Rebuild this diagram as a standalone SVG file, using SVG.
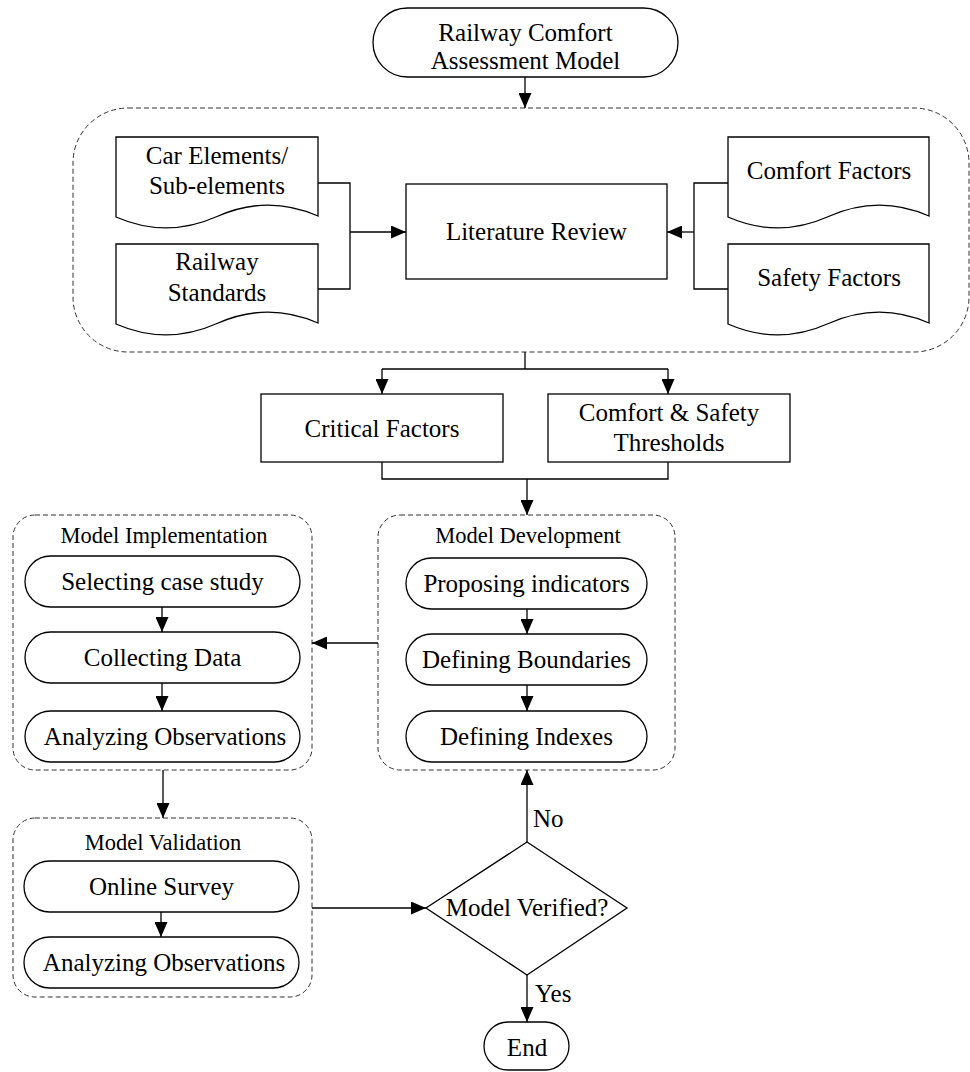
<svg xmlns="http://www.w3.org/2000/svg" width="970" height="1072" viewBox="0 0 970 1072">
<defs>
<marker id="ah" viewBox="0 0 15 13" refX="15" refY="6.5" markerWidth="15" markerHeight="13" markerUnits="userSpaceOnUse" orient="auto">
<path d="M0,0 L15,6.5 L0,13 Z" fill="#000"/>
</marker>
<style>
.s{fill:#fff;stroke:#000;stroke-width:1.3}
.c{fill:none;stroke:#333;stroke-width:1;stroke-dasharray:5 3}
.l{fill:none;stroke:#000;stroke-width:1.3}
.a{fill:none;stroke:#000;stroke-width:1.3;marker-end:url(#ah)}
text{font-family:"Liberation Serif","Times New Roman",serif;font-size:25px;text-anchor:middle;fill:#000}
.t{font-size:22.5px}
.lb{text-anchor:start}
</style>
</defs>
<rect width="970" height="1072" fill="#fff"/>

<g id="containers">
<rect id="group-literature" class="c" x="73" y="108" width="896" height="244" rx="55"/>
<rect id="group-implementation" class="c" x="13" y="515" width="299" height="255" rx="22"/>
<rect id="group-development" class="c" x="378" y="515" width="297" height="255" rx="22"/>
<rect id="group-validation" class="c" x="13" y="818" width="299" height="179" rx="22"/>
<text class="t" x="164" y="543">Model Implementation</text>
<text class="t" x="528" y="543">Model Development</text>
<text class="t" x="163" y="850">Model Validation</text>
</g>

<g id="connectors">
<line class="a" x1="525" y1="77" x2="525" y2="108"/>
<polyline class="l" points="318,183 350,183 350,289 318,289"/>
<line class="a" x1="350" y1="232" x2="406" y2="232"/>
<polyline class="l" points="728,183 694,183 694,289 728,289"/>
<line class="a" x1="694" y1="232" x2="667" y2="232"/>
<line class="l" x1="525" y1="352" x2="525" y2="369"/>
<line class="l" x1="382" y1="369" x2="668" y2="369"/>
<line class="a" x1="382" y1="369" x2="382" y2="394"/>
<line class="a" x1="668" y1="369" x2="668" y2="394"/>
<polyline class="l" points="382,462 382,479 668,479 668,462"/>
<line class="a" x1="527" y1="479" x2="527" y2="515"/>
<line class="a" x1="378" y1="643" x2="312" y2="643"/>
<line class="a" x1="162" y1="607" x2="162" y2="632"/>
<line class="a" x1="162" y1="683" x2="162" y2="711"/>
<line class="a" x1="527" y1="609" x2="527" y2="634"/>
<line class="a" x1="527" y1="685" x2="527" y2="711"/>
<line class="a" x1="163" y1="770" x2="163" y2="818"/>
<line class="a" x1="161" y1="912" x2="161" y2="937"/>
<line class="a" x1="312" y1="908" x2="426" y2="908"/>
<line class="a" x1="527" y1="842" x2="527" y2="770"/>
<line class="a" x1="527" y1="975" x2="527" y2="1022"/>
<text class="lb" x="533" y="827">No</text>
<text class="lb" x="535" y="1002">Yes</text>
</g>

<g id="start">
<rect class="s" x="373" y="8" width="305" height="69" rx="34.5"/>
<text x="525.5" y="41">Railway Comfort</text>
<text x="525.5" y="69">Assessment Model</text>
</g>

<g id="doc-car-elements">
<path class="s" d="M116,137 H318 V216 Q267.5,194 217,216.5 Q166.5,239 116,217 Z"/>
<text x="217" y="164">Car Elements/</text>
<text x="217" y="194">Sub-elements</text>
</g>
<g id="doc-railway-standards">
<path class="s" d="M116,244 H318 V323 Q267.5,301 217,323.5 Q166.5,346 116,324 Z"/>
<text x="217" y="270">Railway</text>
<text x="217" y="301">Standards</text>
</g>
<g id="doc-comfort-factors">
<path class="s" d="M728,137 H929 V216 Q878.75,194 828.5,216.5 Q778.25,239 728,217 Z"/>
<text x="829" y="179">Comfort Factors</text>
</g>
<g id="doc-safety-factors">
<path class="s" d="M728,244 H929 V323 Q878.75,301 828.5,323.5 Q778.25,346 728,324 Z"/>
<text x="829" y="286">Safety Factors</text>
</g>

<g id="literature-review">
<rect class="s" x="406" y="184" width="261" height="95"/>
<text x="536.5" y="240">Literature Review</text>
</g>

<g id="critical-factors">
<rect class="s" x="261" y="394" width="242" height="68"/>
<text x="382" y="437">Critical Factors</text>
</g>
<g id="thresholds">
<rect class="s" x="548" y="394" width="242" height="68"/>
<text x="669" y="421">Comfort &amp; Safety</text>
<text x="669" y="451">Thresholds</text>
</g>

<g id="selecting-case-study">
<rect class="s" x="25" y="556" width="275" height="51" rx="25.5"/>
<text x="162.5" y="590">Selecting case study</text>
</g>
<g id="collecting-data">
<rect class="s" x="25" y="632" width="275" height="51" rx="25.5"/>
<text x="162.5" y="666">Collecting Data</text>
</g>
<g id="analyzing-observations-1">
<rect class="s" x="25" y="711" width="275" height="51" rx="25.5"/>
<text x="165" y="745">Analyzing Observations</text>
</g>

<g id="proposing-indicators">
<rect class="s" x="406" y="558" width="241" height="51" rx="25.5"/>
<text x="526.5" y="592">Proposing indicators</text>
</g>
<g id="defining-boundaries">
<rect class="s" x="406" y="634" width="241" height="51" rx="25.5"/>
<text x="526.5" y="668">Defining Boundaries</text>
</g>
<g id="defining-indexes">
<rect class="s" x="406" y="711" width="241" height="51" rx="25.5"/>
<text x="526.5" y="745">Defining Indexes</text>
</g>

<g id="online-survey">
<rect class="s" x="24" y="861" width="275" height="51" rx="25.5"/>
<text x="161.5" y="895">Online Survey</text>
</g>
<g id="analyzing-observations-2">
<rect class="s" x="24" y="937" width="275" height="51" rx="25.5"/>
<text x="164" y="971">Analyzing Observations</text>
</g>

<g id="model-verified">
<polygon class="s" points="527,842 627,908 527,975 426,908"/>
<text x="527" y="916">Model Verified?</text>
</g>

<g id="end">
<rect class="s" x="484" y="1022" width="85" height="48" rx="24"/>
<text x="527" y="1056">End</text>
</g>
</svg>
